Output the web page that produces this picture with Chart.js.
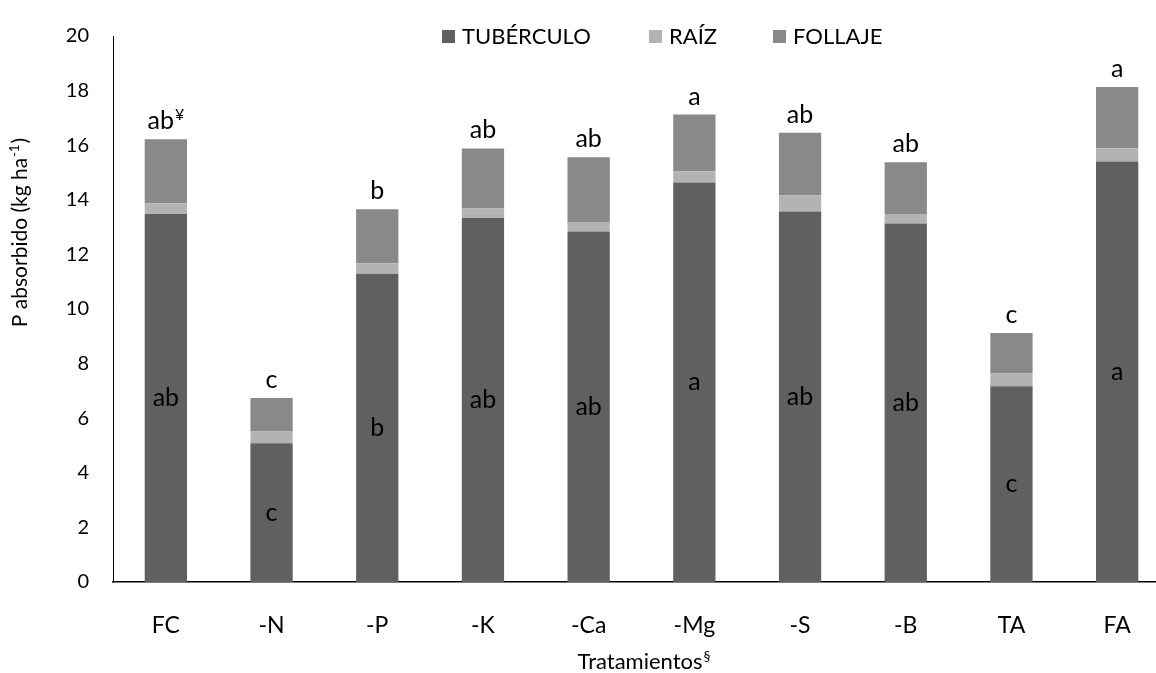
<!DOCTYPE html>
<html>
<head>
<meta charset="utf-8">
<script src="https://cdn.jsdelivr.net/npm/chart.js@4.4.0/dist/chart.umd.min.js"></script>
<style>
  html, body { margin: 0; padding: 0; background: #fff; overflow: hidden; }
  #wrap { position: relative; width: 1172px; height: 673px; }
</style>
</head>
<body>
<div id="wrap"><canvas id="c"></canvas></div>
<script>
// Phosphorus uptake by plant organ for each fertilisation treatment (kg ha-1)
const treatments   = ['FC', '-N', '-P', '-K', '-Ca', '-Mg', '-S', '-B', 'TA', 'FA'];
const tuberculo    = [13.48, 5.08, 11.29, 13.33, 12.84, 14.63, 13.57, 13.13, 7.17, 15.40];
const raiz         = [0.39, 0.43, 0.39, 0.35, 0.35, 0.42, 0.59, 0.35, 0.47, 0.49];
const follaje      = [2.35, 1.23, 1.97, 2.20, 2.37, 2.07, 2.30, 1.90, 1.48, 2.24];

// Mean-separation letters: whole plant (above bars) and tuber (inside bars)
const totalLetters = ['ab', 'c', 'b', 'ab', 'ab', 'a', 'ab', 'ab', 'c', 'a'];
const totalSuper   = ['¥', '', '', '', '', '', '', '', '', ''];
const tuberLetters = ['ab', 'c', 'b', 'ab', 'ab', 'a', 'ab', 'ab', 'c', 'a'];

const yMin = 0, yMax = 20, yStep = 2;

const FONT = 'Lato, "Open Sans", sans-serif';
const colors = { tub: '#606060', raiz: '#b3b3b3', foll: '#898989' };

// Draws a string with an optional superscript part and an optional tail after it
function drawRich(ctx, x, y, main, sup, size, align, tail) {
  const supSize = Math.round(size * 0.62);
  ctx.font = size + 'px ' + FONT;
  const wMain = ctx.measureText(main).width;
  const wTail = tail ? ctx.measureText(tail).width : 0;
  ctx.font = supSize + 'px ' + FONT;
  const wSup = sup ? ctx.measureText(sup).width + 1 : 0;
  const total = wMain + wSup + wTail;
  const x0 = align === 'center' ? x - total / 2 : x;
  ctx.textAlign = 'left';
  ctx.font = size + 'px ' + FONT;
  ctx.fillText(main, x0, y);
  if (sup) {
    ctx.font = supSize + 'px ' + FONT;
    ctx.fillText(sup, x0 + wMain + 1, y - size * 0.38);
  }
  if (tail) {
    ctx.font = size + 'px ' + FONT;
    ctx.fillText(tail, x0 + wMain + wSup + 1, y);
  }
}

const annotations = {
  id: 'annotations',
  afterDatasetsDraw(chart) {
    const ctx = chart.ctx;
    const metaTub = chart.getDatasetMeta(0);
    const metaTop = chart.getDatasetMeta(2);
    ctx.save();
    ctx.fillStyle = '#000';
    ctx.textBaseline = 'alphabetic';
    metaTop.data.forEach((bar, i) => {
      drawRich(ctx, bar.x, bar.y - 10, totalLetters[i], totalSuper[i], 25, 'center');
    });
    ctx.textBaseline = 'middle';
    ctx.textAlign = 'center';
    ctx.font = '25px ' + FONT;
    metaTub.data.forEach((bar, i) => {
      ctx.fillText(tuberLetters[i], bar.x, (bar.y + bar.base) / 2);
    });

    // legend
    ctx.textBaseline = 'middle';
    ctx.textAlign = 'left';
    ctx.font = '22px ' + FONT;
    const legendX = [442, 649, 773];
    chart.data.datasets.forEach((ds, i) => {
      const x = legendX[i];
      ctx.fillStyle = ds.backgroundColor;
      ctx.fillRect(x, 30, 13, 13);
      ctx.fillStyle = '#000';
      ctx.fillText(ds.label, x + 20, 37);
    });

    // axis titles
    ctx.textBaseline = 'alphabetic';
    drawRich(ctx, 644, 669, 'Tratamientos', '§', 22, 'center');
    ctx.save();
    ctx.translate(27, 233);
    ctx.rotate(-Math.PI / 2);
    drawRich(ctx, 0, 0, 'P absorbido (kg ha', '-1', 21, 'center', ')');
    ctx.restore();
    ctx.restore();
  }
};

const barOpts = { barPercentage: 0.4, categoryPercentage: 1.0, borderWidth: 0 };

new Chart(document.getElementById('c'), {
  type: 'bar',
  data: {
    labels: treatments,
    datasets: [
      { label: 'TUBÉRCULO', data: tuberculo, backgroundColor: colors.tub, ...barOpts },
      { label: 'RAÍZ',      data: raiz,      backgroundColor: colors.raiz, ...barOpts },
      { label: 'FOLLAJE',   data: follaje,   backgroundColor: colors.foll, ...barOpts }
    ]
  },
  options: {
    responsive: true,
    maintainAspectRatio: false,
    animation: false,
    layout: { padding: { top: 27, right: 2, left: 0, bottom: 0 } },
    plugins: { legend: { display: false }, tooltip: { enabled: false } },
    scales: {
      x: {
        stacked: true,
        grid: { display: false, drawTicks: false },
        border: { display: true, color: '#000', width: 1.5 },
        ticks: { color: '#000', font: { family: FONT, size: 23 }, padding: 30 },
        afterFit(scale) { scale.height = 91; }
      },
      y: {
        stacked: true,
        min: yMin, max: yMax,
        grid: { display: false, drawTicks: false },
        border: { display: true, color: '#000', width: 1 },
        ticks: { stepSize: yStep, color: '#000', font: { family: FONT, size: 20 }, padding: 24 },
        afterFit(scale) { scale.width = 113; }
      }
    }
  },
  plugins: [annotations]
});
</script>
</body>
</html>
